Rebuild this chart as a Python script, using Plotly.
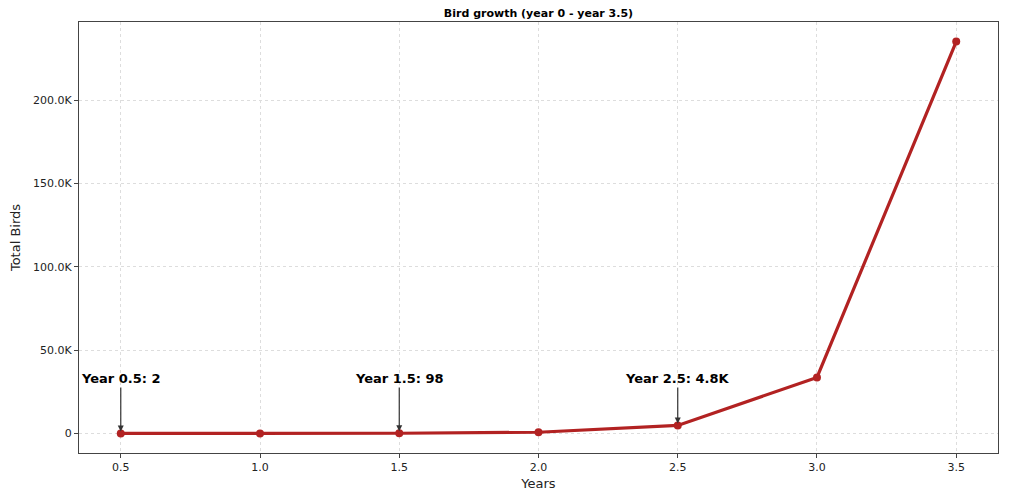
import plotly.graph_objects as go

years = [0.5, 1.0, 1.5, 2.0, 2.5, 3.0, 3.5]
birds = [2, 14, 98, 686, 4802, 33614, 235298]
ytick_vals = [0, 50000, 100000, 150000, 200000]
ytick_text = ["0", "50.0K", "100.0K", "150.0K", "200.0K"]
xtick_vals = [0.5, 1.0, 1.5, 2.0, 2.5, 3.0, 3.5]
xtick_text = ["0.5", "1.0", "1.5", "2.0", "2.5", "3.0", "3.5"]
ann_years = [0.5, 1.5, 2.5]
ann_labels = ["Year 0.5: 2", "Year 1.5: 98", "Year 2.5: 4.8K"]
ann_text_y = 33000

fig = go.Figure()
fig.add_trace(go.Scatter(
    x=years, y=birds, mode="lines+markers",
    line=dict(color="#B22222", width=3.2),
    marker=dict(color="#B22222", size=8),
    showlegend=False,
))

for xv, lab in zip(ann_years, ann_labels):
    yv = birds[years.index(xv)]
    fig.add_annotation(
        x=xv, y=yv, xref="x", yref="y", text="<b>" + lab + "</b>",
        showarrow=True, axref="x", ayref="y", ax=xv, ay=ann_text_y,
        arrowhead=2, arrowsize=1, arrowwidth=1.2, arrowcolor="#333333", standoff=2,
        font=dict(family="DejaVu Sans", size=13, color="black"),
    )

axis_common = dict(
    showgrid=True, gridcolor="#dddddd", griddash="3px,3px", gridwidth=1,
    zeroline=False, showline=True, linecolor="#444444", linewidth=1, mirror=True,
    ticks="outside", ticklen=4, tickcolor="#444444", automargin=False,
    tickfont=dict(family="DejaVu Sans", size=11, color="#222222"),
)

fig.update_layout(
    width=1008, height=483,
    margin=dict(l=71, r=18, t=14, b=38),
    paper_bgcolor="white", plot_bgcolor="white",
    title=dict(text="<b>Bird growth (year 0 - year 3.5)</b>", x=0.5, xanchor="center",
               xref="paper", y=0.99, yref="container", yanchor="middle",
               font=dict(family="DejaVu Sans", size=11, color="black")),
    xaxis=dict(range=[0.35, 3.65], tickvals=xtick_vals, ticktext=xtick_text,
               title=dict(text="Years", font=dict(family="DejaVu Sans", size=13, color="#222222")),
               **axis_common),
    yaxis=dict(range=[-11765, 247063], tickvals=ytick_vals, ticktext=ytick_text,
               title=dict(text="Total Birds", font=dict(family="DejaVu Sans", size=13, color="#222222")),
               **axis_common),
)

fig.write_html("out.html")
